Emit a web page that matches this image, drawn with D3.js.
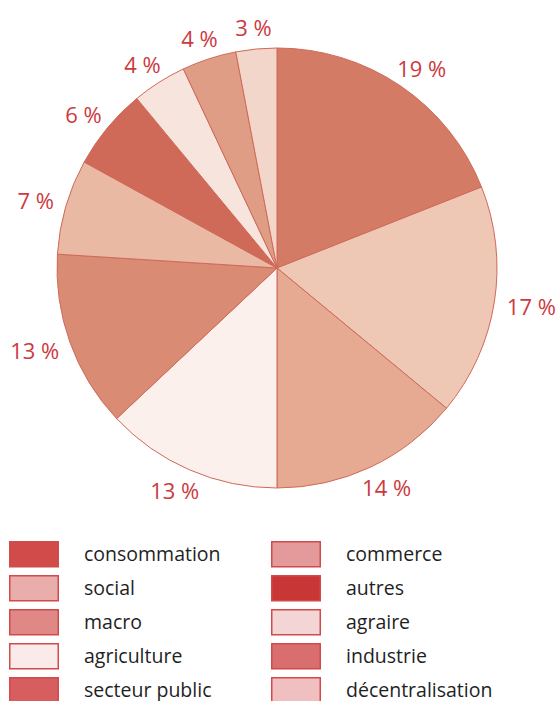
<!DOCTYPE html>
<html lang="fr">
<head>
    <meta charset="UTF-8">
    <title>Répartition par secteur</title>
    <script src="https://d3js.org/d3.v7.min.js"></script>
    <style>
        body { margin: 0; background: #fff; }
        svg { display: block; }
        .pct { font-family: "Open Sans", sans-serif; font-size: 22px; font-weight: 500; fill: #cc3a3f; }
        .legend-text { font-family: "Open Sans", sans-serif; font-size: 19.5px; fill: #1f1f1f; }
    </style>
</head>
<body>
    <svg id="chart"></svg>

    <script>
        // slice values, clockwise from 12 o'clock
        const sliceValues = [19, 17, 14, 13, 13, 7, 6, 4, 4, 3];
        const sliceColors = ["#d47b65", "#eec8b5", "#e6a992", "#fbf0eb", "#d98b73",
                             "#e9b9a3", "#d06a58", "#f7e4dc", "#df9d86", "#f3d6ca"];

        // legend, read column by column
        const legendLabels = ["consommation", "social", "macro", "agriculture", "secteur public",
                              "commerce", "autres", "agraire", "industrie", "décentralisation"];
        const legendColors = ["#d14b4b", "#e9adab", "#e08886", "#fbeaea", "#d65e5e",
                              "#e49a9a", "#c83636", "#f4d5d5", "#d96e6e", "#f0c0c0"];

        const width = 557, height = 701;
        const cx = 277, cy = 268, radius = 220;

        const svg = d3.select("#chart")
            .attr("width", width)
            .attr("height", height);

        // pie
        const pie = d3.pie().sort(null).value(d => d);
        const arcs = pie(sliceValues);
        const arc = d3.arc().innerRadius(0).outerRadius(radius);

        const g = svg.append("g").attr("transform", `translate(${cx},${cy})`);

        g.selectAll("path.slice")
            .data(arcs)
            .enter()
            .append("path")
            .attr("class", "slice")
            .attr("d", arc)
            .attr("fill", (d, i) => sliceColors[i])
            .attr("stroke", "#d0695a")
            .attr("stroke-width", 1);

        // percentage labels outside, pushed away from the rim by their own box
        const labelR = 233;
        g.selectAll("text.pct")
            .data(arcs)
            .enter()
            .append("text")
            .attr("class", "pct")
            .attr("text-anchor", "middle")
            .attr("dominant-baseline", "central")
            .text(d => d.data + " %")
            .each(function(d) {
                const a = (d.startAngle + d.endAngle) / 2;
                const bb = this.getBBox();
                const x = labelR * Math.sin(a) + bb.width / 2 * Math.sin(a);
                const y = -labelR * Math.cos(a) - 9 * Math.cos(a);
                d3.select(this).attr("x", x).attr("y", y);
            });

        // legend: two columns of five
        const rowStep = 34, legendTop = 541;
        const colX = [9, 271];
        const items = svg.selectAll("g.legend-item")
            .data(legendLabels)
            .enter()
            .append("g")
            .attr("class", "legend-item")
            .attr("transform", (d, i) => `translate(${colX[Math.floor(i / 5)]},${legendTop + (i % 5) * rowStep})`);

        items.append("rect")
            .attr("x", 0.75)
            .attr("y", 0.75)
            .attr("width", 48.5)
            .attr("height", 25)
            .attr("fill", (d, i) => legendColors[i])
            .attr("stroke", "#d24a4a")
            .attr("stroke-width", 1.5);

        items.append("text")
            .attr("class", "legend-text")
            .attr("x", 75)
            .attr("y", 20)
            .text(d => d);
    </script>
</body>
</html>
